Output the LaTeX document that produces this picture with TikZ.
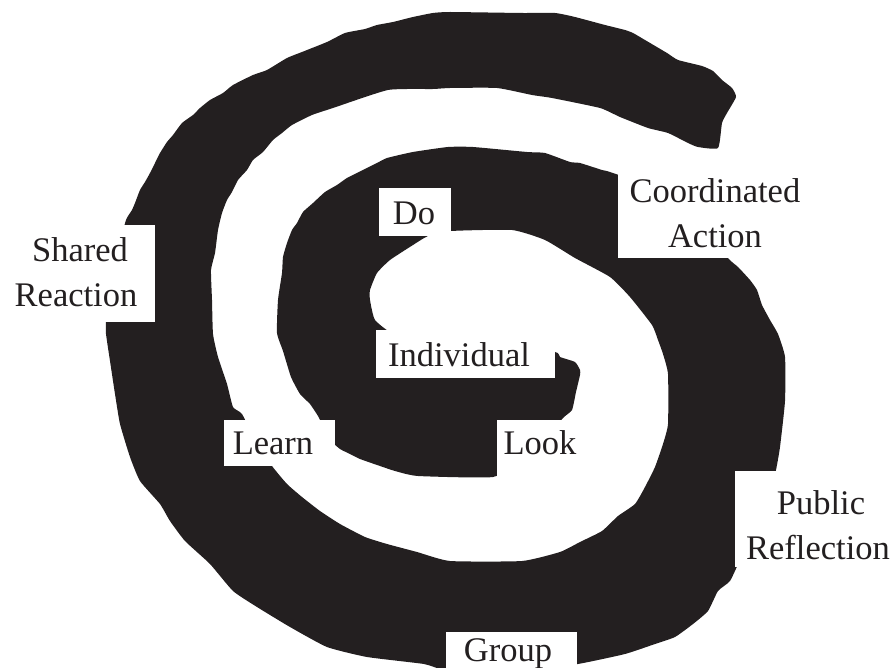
\documentclass[tikz,border=0pt]{standalone}
\usepackage{fontspec}
\setmainfont{Liberation Serif}
\definecolor{ink}{RGB}{35,31,32}
\begin{document}
\begin{tikzpicture}[x=1pt,y=-1pt,
  lbl/.style={anchor=base, inner sep=0pt, text=ink, font=\fontsize{34.5}{40}\selectfont},
  labelbox/.style={fill=white}]
\useasboundingbox (0,0) rectangle (895,668);
\begin{scope}
\clip (0,0) rectangle (895,668);
\fill[ink] plot[smooth cycle, tension=0.3] coordinates {
(736,97) (732,88) (722,80) (713,71) (702,66) (678,60) (667,53) (645,40) (633,33) (625,30)
(605,25) (575,17) (555,13) (522,13) (450,12) (433,13) (413,17) (393,22) (377,25) (365,29)
(345,33) (327,42) (302,52) (287,58) (267,70) (253,75) (233,85) (223,93) (210,100) (200,108)
(193,115) (182,123) (173,135) (167,142) (160,153) (155,163) (150,173) (145,182) (140,190)
(135,203) (132,210) (126,220) (118,250) (110,290) (106,322) (106,334) (110,361) (115,394)
(120,424) (130,457) (140,481) (160,504) (170,521) (185,541) (210,564) (233,591) (257,607)
(290,627) (327,647) (367,657) (424,664) (445,670) (510,674) (578,664) (625,654) (655,644)
(675,637) (693,624) (708,611) (718,591) (730,581) (740,560) (755,530) (770,495) (776,470)
(780,447) (785,401) (785,357) (778,334) (770,320) (762,305) (757,290) (750,280) (738,267)
(728,258) (700,220) (660,190) (610,172) (602,170) (580,163) (570,162) (545,153) (527,152)
(473,147) (448,147) (413,152) (387,158) (377,163) (363,170) (347,178) (337,185) (325,192)
(313,203) (303,212) (297,223) (292,230) (287,243) (283,257) (282,273) (278,300) (277,333)
(283,351) (291,377) (300,394) (310,404) (318,416) (324,428) (330,440) (340,449) (350,454)
(360,459) (380,466) (395,471) (418,476) (493,477) (520,460) (545,440) (563,418) (572,410)
(576,392) (580,375) (580,370) (575,362) (560,357) (555,352) (500,350) (440,345) (395,335)
(375,320) (370,300) (370,290) (377,273) (390,260) (413,245) (428,236) (451,231) (512,230)
(545,240) (575,258) (610,277) (630,297) (652,325) (658,340) (663,354) (668,374) (668,424)
(663,444) (655,467) (645,487) (635,504) (618,516) (602,531) (580,542) (560,552) (522,561)
(450,561) (417,552) (387,544) (365,537) (340,524) (320,511) (302,497) (287,484) (272,466)
(255,440) (242,414) (233,407) (227,384) (218,357) (213,334) (212,300) (211,270) (215,253)
(218,230) (222,213) (227,200) (232,192) (238,180) (247,170) (253,160) (263,152) (273,140)
(282,133) (292,125) (312,115) (333,108) (388,90) (433,89) (450,88) (497,88) (532,95)
(552,98) (600,108) (620,117) (648,128) (668,133) (688,143) (698,147) (718,148) (722,123)
(727,113)
};
\end{scope}
% label boxes
\fill[labelbox] (0,225) rectangle (155,322);
\fill[labelbox] (379,188) rectangle (451,236);
\fill[labelbox] (618,172) rectangle (812,258);
\fill[labelbox] (376,330) rectangle (555,378);
\fill[labelbox] (224,420) rectangle (335,466);
\fill[labelbox] (497,420) rectangle (588,476);
\fill[labelbox] (735,471) rectangle (895,567);
\fill[labelbox] (446,632) rectangle (577,668);
% labels
\node[lbl] (shared) at (80,262) {Shared};
\node[lbl] (reaction) at (76,307) {Reaction};
\node[lbl] (do) at (414,225) {Do};
\node[lbl] (coordinated) at (715,203) {Coordinated};
\node[lbl] (action) at (715,248) {Action};
\node[lbl] (individual) at (459,367) {Individual};
\node[lbl] (learn) at (273,455) {Learn};
\node[lbl] (look) at (540,454) {Look};
\node[lbl] (public) at (821,514) {Public};
\node[lbl] (reflection) at (818,559) {Reflection};
\node[lbl] (group) at (508,661) {Group};
\end{tikzpicture}
\end{document}
